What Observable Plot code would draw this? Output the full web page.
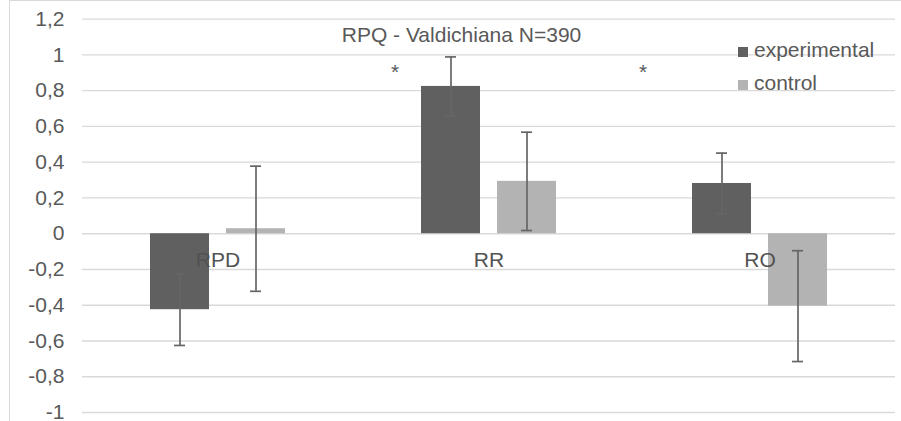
<!DOCTYPE html>
<html><head><meta charset="utf-8">
<script src="https://cdn.jsdelivr.net/npm/d3@7"></script>
<script src="https://cdn.jsdelivr.net/npm/@observablehq/plot@0.6"></script>
<style>
body{margin:0;background:#fff;}
#wrap{position:relative;width:901px;height:421px;overflow:hidden;font-family:"Liberation Sans",Arial,sans-serif;color:#595959;}
#border{position:absolute;left:9px;top:0;width:900px;height:440px;border:1.3px solid #d9d9d9;box-sizing:border-box;}
#chart{position:absolute;left:0;top:0;}
#title{position:absolute;left:261.5px;width:400px;top:24px;text-align:center;font-size:21px;line-height:21px;white-space:nowrap;}
.leg{position:absolute;left:738px;font-size:21px;line-height:21px;white-space:nowrap;}
.sw{display:inline-block;width:10px;height:10px;margin-right:6px;}
</style></head>
<body>
<div id="wrap">
<div id="border"></div>
<div id="chart"></div>
<div id="title"></div>
<div id="legend"></div>
</div>
<script>
const categories = ["RPD", "RR", "RO"];
const series = ["experimental", "control"];
const experimentalValues = [-0.425, 0.824, 0.281];
const experimentalErrors = [0.20, 0.165, 0.17];
const controlValues = [0.028, 0.293, -0.405];
const controlErrors = [0.35, 0.275, 0.31];
const yTicks = [-1, -0.8, -0.6, -0.4, -0.2, 0, 0.2, 0.4, 0.6, 0.8, 1, 1.2];
const titleText = "RPQ - Valdichiana N=390";
const seriesColors = ["#606060", "#b3b3b3"];

const rows = [];
categories.forEach((c, i) => {
  rows.push({category: c, series: "experimental", value: experimentalValues[i], err: experimentalErrors[i]});
  rows.push({category: c, series: "control", value: controlValues[i], err: controlErrors[i]});
});

const fmt = d => String(+d.toFixed(1)).replace(".", ",");
const errColor = "#666666";

const plot = Plot.plot({
  width: 901, height: 421,
  marginLeft: 81, marginRight: 5, marginTop: 18.7, marginBottom: 9,
  style: {fontFamily: "'Liberation Sans', Arial, sans-serif", fontSize: "21px", color: "#595959", background: "transparent", overflow: "visible"},
  fx: {domain: categories, padding: 0, axis: null},
  x: {domain: series, paddingInner: 0.22, paddingOuter: 0.87, axis: null},
  y: {domain: [-1, 1.2], ticks: yTicks, tickFormat: fmt, tickSize: 0, tickPadding: 18, label: null},
  color: {domain: series, range: seriesColors},
  marks: [
    Plot.ruleY(yTicks, {stroke: "#d9d9d9", strokeWidth: 1.3}),
    Plot.barY(rows, {fx: "category", x: "series", y: "value", fill: "series"}),
    Plot.ruleX(rows, {fx: "category", x: "series", y1: d => d.value - d.err, y2: d => d.value + d.err, stroke: errColor, strokeWidth: 1.7}),
    Plot.tickY(rows, {fx: "category", x: "series", y: d => d.value - d.err, stroke: errColor, strokeWidth: 1.7, insetLeft: 24, insetRight: 24}),
    Plot.tickY(rows, {fx: "category", x: "series", y: d => d.value + d.err, stroke: errColor, strokeWidth: 1.7, insetLeft: 24, insetRight: 24}),
    Plot.text(categories, {fx: d => d, y: 0, text: d => d, dy: 27, fill: "#525252"}),
    Plot.text(["*"], {fx: () => "RR", frameAnchor: "top", dx: -94, dy: 45, text: d => d, fill: "#595959"}),
    Plot.text(["*"], {fx: () => "RO", frameAnchor: "top", dx: -117, dy: 45, text: d => d, fill: "#595959"})
  ]
});
document.getElementById("chart").appendChild(plot);
document.getElementById("title").textContent = titleText;

const legend = document.getElementById("legend");
const legendTops = [39, 71.5];
series.forEach((s, i) => {
  const item = document.createElement("div");
  item.className = "leg";
  item.style.top = legendTops[i] + "px";
  const sw = document.createElement("span");
  sw.className = "sw";
  sw.style.background = seriesColors[i];
  item.appendChild(sw);
  item.appendChild(document.createTextNode(s));
  legend.appendChild(item);
});
</script>
</body></html>
